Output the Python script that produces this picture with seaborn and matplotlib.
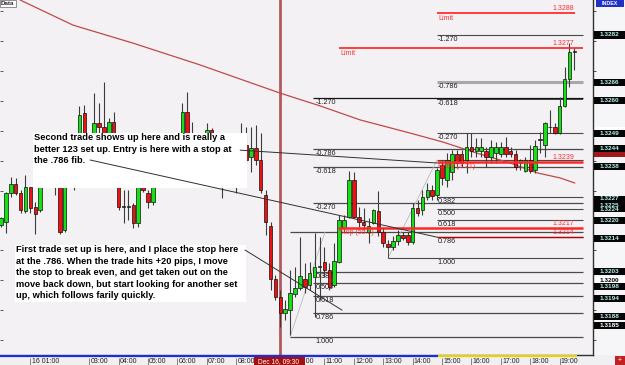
import numpy as np
import pandas as pd
import matplotlib
matplotlib.use("Agg")
import matplotlib.pyplot as plt
import seaborn as sns
from matplotlib.patches import Rectangle

nan = np.nan

# ---------------- data: 10-minute candles from 00:00 Dec 16 (bar index 0..117) ----------------
opens = [
    1.32185, 1.32195, 1.32292, 1.32322, 1.32292, 1.32231, 1.32312, 1.32245, 1.32235, nan,
    nan, 1.32402, 1.32385, 1.32168, nan, 1.32369, 1.32435, 1.32559, nan, 1.32435,
    1.32526, 1.32512, 1.32435, 1.32529, 1.32369, 1.32245, 1.32245, 1.32251, 1.32191, 1.32335,
    1.32292, 1.32262, nan, nan, nan, nan, nan, 1.32452, 1.32563, 1.32469,
    nan, nan, 1.32435, 1.32502, nan, 1.32385, nan, nan, 1.32369, 1.32452,
    1.32452, 1.32412, 1.32442, 1.32402, 1.32285, 1.32181, 1.32004, 1.31944, 1.31890, 1.31900,
    1.31954, 1.31974, 1.32004, 1.31984, 1.32011, 1.32044, 1.32061, 1.32034, 1.31984, 1.32061,
    1.32175, 1.32211, 1.32335, 1.32211, 1.32195, 1.32161, 1.32191, 1.32231, 1.32161, 1.32121,
    1.32111, 1.32131, 1.32151, 1.32151, 1.32128, 1.32241, 1.32235, 1.32278, 1.32302, 1.32285,
    1.32385, 1.32335, 1.32362, 1.32422, 1.32422, 1.32402, 1.32445, 1.32432, 1.32432, 1.32432,
    1.32412, 1.32425, 1.32422, 1.32445, 1.32432, 1.32422, 1.32392, 1.32365, 1.32402, 1.32369,
    1.32469, 1.32452, 1.32512, 1.32512, 1.32492, 1.32583, 1.32673, 1.32763]
highs = [
    1.32211, 1.32295, 1.32345, 1.32342, 1.32302, 1.32352, 1.32312, 1.32262, 1.32369, nan,
    nan, 1.32435, 1.32419, 1.32402, nan, 1.32402, 1.32583, 1.32586, nan, 1.32626,
    1.32593, 1.32663, 1.32542, 1.32563, 1.32385, 1.32302, 1.32302, 1.32258, 1.32419, 1.32352,
    1.32302, 1.32352, nan, nan, nan, nan, nan, 1.32593, 1.32629, 1.32529,
    nan, nan, 1.32526, 1.32509, nan, 1.32435, nan, nan, 1.32419, 1.32526,
    1.32512, 1.32512, 1.32519, 1.32492, 1.32302, 1.32195, 1.32017, 1.31967, 1.31934, 1.32034,
    1.32044, 1.32144, 1.32058, 1.32061, 1.32158, 1.32144, 1.32111, 1.32058, 1.32124, 1.32218,
    1.32218, 1.32365, 1.32362, 1.32245, 1.32241, 1.32208, 1.32238, 1.32298, 1.32178, 1.32134,
    1.32148, 1.32168, 1.32161, 1.32161, 1.32258, 1.32268, 1.32302, 1.32325, 1.32318, 1.32375,
    1.32402, 1.32425, 1.32435, 1.32435, 1.32435, 1.32492, 1.32492, 1.32476, 1.32476, 1.32445,
    1.32469, 1.32462, 1.32462, 1.32479, 1.32445, 1.32435, 1.32405, 1.32412, 1.32452, 1.32469,
    1.32496, 1.32529, 1.32569, 1.32526, 1.32613, 1.32713, 1.32793, 1.32776]
lows = [
    1.32178, 1.32158, 1.32278, 1.32285, 1.32225, 1.32225, 1.32225, 1.32154, 1.32228, nan,
    nan, 1.32285, 1.32154, 1.32161, nan, 1.32302, 1.32419, 1.32419, nan, 1.32402,
    1.32469, 1.32402, 1.32402, 1.32369, 1.32235, 1.32191, 1.32201, 1.32175, 1.32178, 1.32295,
    1.32241, 1.32251, nan, nan, nan, nan, nan, 1.32435, 1.32435, 1.32435,
    nan, nan, 1.32419, 1.32419, nan, 1.32275, nan, nan, 1.32292, 1.32435,
    1.32392, 1.32362, 1.32385, 1.32292, 1.32151, 1.31967, 1.31934, 1.31844, 1.31867, 1.31817,
    1.31944, 1.31967, 1.31957, 1.31967, 1.31877, 1.31934, 1.32011, 1.31967, 1.31977, 1.32058,
    1.32161, 1.32208, 1.32208, 1.32178, 1.32168, 1.32124, 1.32188, 1.32148, 1.32111, 1.32108,
    1.32101, 1.32118, 1.32134, 1.32118, 1.32121, 1.32215, 1.32218, 1.32268, 1.32268, 1.32268,
    1.32318, 1.32312, 1.32335, 1.32375, 1.32379, 1.32359, 1.32412, 1.32412, 1.32412, 1.32379,
    1.32392, 1.32392, 1.32412, 1.32412, 1.32412, 1.32369, 1.32369, 1.32362, 1.32359, 1.32359,
    1.32425, 1.32412, 1.32492, 1.32489, 1.32489, 1.32579, 1.32646, 1.32703]
closes = [
    1.32208, 1.32292, 1.32322, 1.32292, 1.32235, 1.32312, 1.32241, 1.32221, 1.32349, nan,
    nan, 1.32385, 1.32161, 1.32369, nan, 1.32385, 1.32552, 1.32435, nan, 1.32526,
    1.32512, 1.32435, 1.32529, 1.32402, 1.32245, 1.32245, 1.32245, 1.32191, 1.32402, 1.32302,
    1.32262, 1.32335, nan, nan, nan, nan, nan, 1.32563, 1.32452, 1.32452,
    nan, nan, 1.32502, 1.32435, nan, 1.32385, nan, nan, 1.32369, 1.32452,
    1.32402, 1.32442, 1.32402, 1.32302, 1.32195, 1.32004, 1.31944, 1.31890, 1.31904, 1.31957,
    1.31974, 1.32014, 1.31977, 1.32024, 1.32044, 1.32044, 1.32034, 1.31977, 1.32064, 1.32201,
    1.32201, 1.32335, 1.32211, 1.32195, 1.32185, 1.32181, 1.32235, 1.32161, 1.32124, 1.32111,
    1.32131, 1.32151, 1.32141, 1.32128, 1.32241, 1.32225, 1.32278, 1.32302, 1.32282, 1.32369,
    1.32342, 1.32402, 1.32422, 1.32392, 1.32392, 1.32445, 1.32432, 1.32445, 1.32445, 1.32412,
    1.32445, 1.32445, 1.32445, 1.32422, 1.32422, 1.32379, 1.32402, 1.32402, 1.32365, 1.32449,
    1.32469, 1.32526, 1.32512, 1.32492, 1.32583, 1.32673, 1.32763, 1.32763]

# moving average (read points)
ma_bar = [3.9, 14.7, 26.9, 40.6, 56.9, 65.1, 73.3, 83.5, 90.2, 97.1, 103.9, 109.4, 114.1, 117.1]
ma_price = [1.32937, 1.32853, 1.32793, 1.32720, 1.32626, 1.32583, 1.32536, 1.32492,
            1.32462, 1.32425, 1.32392, 1.32359, 1.32342, 1.32325]

# Fibonacci sets
fib_levels = ["-1.270", "-0.786", "-0.618", "-0.270", "0.000", "0.382", "0.500", "0.618", "0.786", "1.000"]
fibA_prices = [1.32820, 1.32663, 1.32606, 1.32492, 1.32402, 1.32278, 1.32238, 1.32201, 1.32144, 1.32074]
fibB_prices = [1.32609, 1.32439, 1.32379, 1.32258, 1.32161, 1.32027, 1.31991, 1.31947, 1.31890, 1.31810]

# trade order lines
trade_names = ["Limit", "Limit", "Entry (3.21)", "Stop (55.2)", ""]
trade_prices = [1.32893, 1.32776, 1.32395, 1.32175, 1.32144]
trade_tags = ["1.3288", "1.3277", "1.3239", "1.3217", "1.3214"]

# right-hand price tags
tag_texts = ["1.3282", "1.3266", "1.3260", "1.3249", "1.3244", "1.3238", "1.3227", "1.3225",
             "1.3224", "1.3220", "1.3214", "1.3203", "1.3198", "1.3194", "1.3188"]
scale_texts = ["1.3250", "1.3200"]
last_tag = "1.3185"

# time axis
hour_bars = [6, 18, 24, 30, 36, 42, 48, 60, 66, 72, 78, 84, 90, 96, 102, 108, 114]
hour_labels = ["16 01:00", "03:00", "04:00", "05:00", "06:00", "07:00", "08:00", "10:00",
               "11:00", "12:00", "13:00", "14:00", "15:00", "16:00", "17:00", "18:00", "19:00"]
cursor_bar = 57
cursor_label = "Dec 16, 09:30"

box1_text = ("Second trade shows up here and is really a\n"
             "better 123 set up. Entry is here with a stop at\n"
             "the .786 fib.")
box2_text = ("First trade set up is here, and I place the stop here\n"
             "at the .786. When the trade hits +20 pips, I move\n"
             "the stop to break even, and get taken out on the\n"
             "move back down, but start looking for another set\n"
             "up, which follows farily quickly.")

# ---------------- figure ----------------
sns.set_theme(style="white")
plt.rcParams['font.family'] = ['Liberation Sans', 'DejaVu Sans']

W, H = 625, 365
PX, PY = 593, 355
XMIN, XMAX = -0.2, 120.8
YMIN, YMAX = 1.31750, 1.32937

def bx(px):
    return XMIN + px / PX * (XMAX - XMIN)

def ay(py):
    return 1 - py / PY

fig = plt.figure(figsize=(W / 100, H / 100), dpi=100)
fig.patch.set_facecolor('#f0f0f2')
ax = fig.add_axes([0, (H - PY) / H, PX / W, PY / H])
ax.set_facecolor('#f3f1f4')
ax.set_xlim(XMIN, XMAX)
ax.set_ylim(YMIN, YMAX)
for s in ['top', 'left', 'right']:
    ax.spines[s].set_visible(False)
ax.spines['bottom'].set_color('#303030')
ax.spines['bottom'].set_linewidth(1.0)
ax.set_xticks([])
ax.set_yticks(np.arange(1.3180, 1.3295, 0.0010))
ax.tick_params(axis='y', direction='in', length=2.5, width=0.6, color='#404040',
               left=True, labelleft=False)

# cursor line
ax.axvline(cursor_bar, color='#b25a5a', lw=2.0, zorder=1.5)

# fib lines
fa0, fa1, fa_lab = bx(437), bx(583), bx(437)
fb0, fb1, fb_lab = bx(313), bx(583), bx(315)
for lev, p in zip(fib_levels, fibA_prices):
    x0 = bx(388) if lev == "1.000" else fa0
    col, lw = '#4a4a4a', 0.8
    if lev == "-0.786":
        col, lw = '#a8a8a8', 2.2
    if lev == "-0.618":
        col, lw = '#151515', 1.1
    ax.hlines(p, x0, fa1, color=col, lw=lw, zorder=2)
    if lev != "0.000":
        ax.annotate(lev, (fa_lab, p), xytext=(0.5, -0.8), textcoords='offset points',
                    fontsize=5.2, color='#202020', va='top', ha='left', zorder=3)
for lev, p in zip(fib_levels, fibB_prices):
    x0 = bx(290) if lev in ("0.000", "1.000") else fb0
    col = '#151515' if lev == "-1.270" else '#4a4a4a'
    ax.hlines(p, x0, fb1, color=col, lw=0.9, zorder=2)
    if lev != "0.000":
        ax.annotate(lev, (fb_lab, p), xytext=(0.5, -0.8), textcoords='offset points',
                    fontsize=5.2, color='#202020', va='top', ha='left', zorder=3)
# fib anchor lines
ax.plot([bx(388), bx(437)], [fibA_prices[-1], fibA_prices[4]], color='#bcbcbc', lw=0.6, zorder=2)
ax.vlines(bx(388), fibA_prices[-1], 1.32111, color='#4a4a4a', lw=0.7, zorder=2)
ax.plot([bx(290), bx(325)], [fibB_prices[-1], fibB_prices[4]], color='#bcbcbc', lw=0.6, zorder=2)

# moving average
sns.lineplot(x=ma_bar, y=ma_price, ax=ax, color='#c04a4a', lw=0.9, zorder=2.5)

# candles
df = pd.DataFrame(dict(bar=np.arange(len(opens)), open=opens, high=highs,
                       low=lows, close=closes)).dropna()
doji = (df.close - df.open).abs() < 1e-6
up = df.close > df.open
colors = np.where(doji, '#808080', np.where(up, '#14e014', '#f01010'))
ax.vlines(df.bar, df.low, df.high, color='#3c3c3c', lw=0.8, zorder=4)
ax.bar(df.bar, (df.close - df.open).abs().clip(lower=0.00002),
       bottom=np.minimum(df.open, df.close), width=0.72, color=colors,
       edgecolor='#101010', linewidth=0.5, zorder=5)

# trade lines
t_start = [bx(437), bx(339), bx(437), bx(338), bx(437)]
t_end = [bx(575), bx(583), bx(583), bx(583), bx(583)]
t_col = ['#ff2020', '#ff2020', '#ff2828', '#ff2828', '#b80000']
t_lw = [1.2, 1.2, 1.8, 1.8, 1.0]
for name, p, tag, x0, x1, c, lw in zip(trade_names, trade_prices, trade_tags, t_start, t_end, t_col, t_lw):
    ax.hlines(p, x0, x1, color=c, lw=lw, zorder=6)
    ax.annotate(tag, (bx(574), p), xytext=(0, 0.5), textcoords='offset points',
                fontsize=5, color='#ff3030', ha='right', va='bottom', zorder=7)
    if name:
        ax.annotate(name, (x0, p), xytext=(1, -1), textcoords='offset points',
                    fontsize=5, color='#ff3030', ha='left', va='top', zorder=7)

# annotation boxes
ax.add_patch(Rectangle((33 / PX, ay(188)), (247 - 33) / PX, (188 - 133) / PY,
                       transform=ax.transAxes, facecolor='white', edgecolor='none', zorder=10))
ax.text(34 / PX, ay(133), box1_text, transform=ax.transAxes, fontsize=6.7,
        fontweight='bold', va='top', ha='left', linespacing=1.36, color='black', zorder=11)
ax.add_patch(Rectangle((15 / PX, ay(302)), (246 - 15) / PX, (302 - 245) / PY,
                       transform=ax.transAxes, facecolor='white', edgecolor='none', zorder=10))
ax.text(16 / PX, ay(245), box2_text, transform=ax.transAxes, fontsize=6.7,
        fontweight='bold', va='top', ha='left', linespacing=1.36, color='black', zorder=11)

# pointer lines
pointer_bars = [(48.8, 89.0), (18.2, 89.0), (49.8, 69.6)]
pointer_prices = [(1.32435, 1.32392), (1.32402, 1.32144), (1.32101, 1.31900)]
for xs, ys in zip(pointer_bars, pointer_prices):
    ax.plot(xs, ys, color='#303030', lw=0.7, zorder=12)

# Data tag
ax.text(1 / PX, ay(1), "Data", transform=ax.transAxes, fontsize=4.5, fontweight='bold',
        va='top', ha='left', zorder=13,
        bbox=dict(facecolor='white', edgecolor='#808080', pad=0.8, lw=0.6))

# ---------------- right price strip ----------------
axr = fig.add_axes([PX / W, (H - PY) / H, (W - PX) / W, PY / H])
axr.set_facecolor('#f6f6f8')
axr.set_xlim(0, 1)
axr.set_ylim(YMIN, YMAX)
for s in ['top', 'right', 'bottom']:
    axr.spines[s].set_visible(False)
axr.spines['left'].set_color('#303030')
axr.spines['left'].set_linewidth(1.0)
axr.set_xticks([])
axr.set_yticks(np.arange(1.3180, 1.3295, 0.0010))
axr.tick_params(axis='y', direction='in', length=2.5, width=0.6, color='#303030',
                left=True, labelleft=False)
th = 0.00024
nudge = {"1.3227": 0.8, "1.3224": -0.6}
for t in scale_texts:
    p = float(t)
    axr.add_patch(Rectangle((0.04, p - th / 2), 0.96, th, facecolor='white', edgecolor='none', zorder=2))
axr.text(0.52, float(scale_texts[1]), scale_texts[1], fontsize=4.6, fontweight='bold',
         color='black', ha='center', va='center', zorder=3)
axr.add_patch(Rectangle((0.04, 1.32425 - th / 2), 0.96, th, facecolor='#a01818', edgecolor='none', zorder=3))
for t in tag_texts:
    p = float(t)
    axr.add_patch(Rectangle((0.04, p - th / 2), 0.96, th, facecolor='#050505', edgecolor='none', zorder=4))
for t in tag_texts:
    axr.annotate(t, (0.52, float(t)), xytext=(0, nudge.get(t, 0)), textcoords='offset points',
                 fontsize=4.6, fontweight='bold', color='#b8f0ee', ha='center', va='center', zorder=5)
axr.add_patch(Rectangle((0.04, float(last_tag) - th / 2), 0.96, th, facecolor='#050505', edgecolor='none', zorder=4))
axr.text(0.52, float(last_tag), last_tag, fontsize=4.6, fontweight='bold', color='white',
         ha='center', va='center', zorder=5)
axr.add_patch(Rectangle((0.08, YMAX - 0.00022), 0.9, 0.00022, facecolor='#2030c8', edgecolor='none', zorder=4))
axr.text(0.53, YMAX - 0.00011, "INDEX", fontsize=3.8, fontweight='bold', color='white',
         ha='center', va='center', zorder=5)

# ---------------- bottom time strip ----------------
axb = fig.add_axes([0, 0, PX / W, (H - PY) / H])
axb.set_facecolor('#f0f0f2')
axb.set_xlim(XMIN, XMAX)
axb.set_ylim(0, 1)
axb.axis('off')
axb.plot([XMIN, bx(438)], [0.9, 0.9], color='#1f2be0', lw=1.6, solid_capstyle='butt')
axb.plot([bx(438), bx(577)], [0.9, 0.9], color='#e6d400', lw=1.6, solid_capstyle='butt')
for b, lab in zip(hour_bars, hour_labels):
    axb.vlines(b, 0.0, 0.75, color='#707070', lw=0.6)
    axb.text(b + 0.25, 0.36, lab, fontsize=5, color='#202020', ha='left', va='center')
axb.add_patch(Rectangle((bx(254), 0.0), bx(305) - bx(254), 0.8, facecolor='#a41010',
                        edgecolor='none', zorder=5))
axb.text(cursor_bar - 0.3, 0.38, cursor_label, fontsize=4.8, color='white', ha='center', va='center', zorder=6)

# bottom-right corner icon
fig.patches.append(Rectangle((615 / W, 0), 10 / W, 9 / H, transform=fig.transFigure,
                             facecolor='#c02020', edgecolor='none', zorder=5))
fig.text(620 / W, 4.5 / H, "+", fontsize=5, color='white', ha='center', va='center', zorder=6)

fig.savefig("out.png", dpi=100, facecolor=fig.get_facecolor())
